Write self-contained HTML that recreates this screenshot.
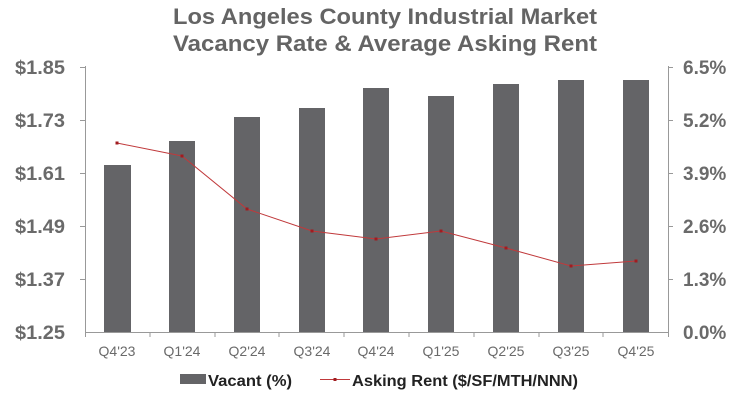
<!DOCTYPE html>
<html><head><meta charset="utf-8"><style>
body{margin:0;background:#fff;width:744px;height:400px;overflow:hidden}
svg{display:block}
.t{font-family:"Liberation Sans",sans-serif;font-weight:bold;fill:#646464}
.n{font-family:"Liberation Sans Narrow","Liberation Sans",sans-serif;fill:#6a6a6a}
</style></head><body>
<svg width="744" height="400" viewBox="0 0 744 400">
<text class="t" x="385" y="24" font-size="22" text-anchor="middle" textLength="424" lengthAdjust="spacingAndGlyphs">Los Angeles County Industrial Market</text>
<text class="t" x="385" y="51" font-size="22" text-anchor="middle" textLength="424" lengthAdjust="spacingAndGlyphs">Vacancy Rate &amp; Average Asking Rent</text>
<g fill="#646467">
<rect x="104" y="165" width="27" height="167"/>
<rect x="169" y="141" width="26" height="191"/>
<rect x="234" y="117" width="26" height="215"/>
<rect x="299" y="108" width="26" height="224"/>
<rect x="363" y="88" width="26" height="244"/>
<rect x="428" y="96" width="26" height="236"/>
<rect x="493" y="84" width="26" height="248"/>
<rect x="558" y="80" width="26" height="252"/>
<rect x="623" y="80" width="26" height="252"/>
</g>
<g stroke="#999" stroke-width="1" fill="none">
<line x1="85.5" y1="66" x2="85.5" y2="337"/>
<line x1="668.5" y1="66" x2="668.5" y2="337"/>
<line x1="85" y1="332.5" x2="669" y2="332.5"/>
<line x1="80" y1="67.5" x2="85" y2="67.5"/><line x1="80" y1="120.5" x2="85" y2="120.5"/><line x1="80" y1="173.5" x2="85" y2="173.5"/><line x1="80" y1="226.5" x2="85" y2="226.5"/><line x1="80" y1="279.5" x2="85" y2="279.5"/>
<line x1="668" y1="67.5" x2="673" y2="67.5"/><line x1="668" y1="120.5" x2="673" y2="120.5"/><line x1="668" y1="173.5" x2="673" y2="173.5"/><line x1="668" y1="226.5" x2="673" y2="226.5"/><line x1="668" y1="279.5" x2="673" y2="279.5"/>
<line x1="150" y1="332" x2="150" y2="337"/><line x1="215" y1="332" x2="215" y2="337"/><line x1="279" y1="332" x2="279" y2="337"/><line x1="344" y1="332" x2="344" y2="337"/><line x1="409" y1="332" x2="409" y2="337"/><line x1="474" y1="332" x2="474" y2="337"/><line x1="539" y1="332" x2="539" y2="337"/><line x1="603" y1="332" x2="603" y2="337"/>
</g>
<polyline fill="none" stroke="#c0393b" stroke-width="1" points="117,143 182,156 247,209 312,231 376,239 441,231 506,248 571,266 636,261"/>
<g fill="#a01c20">
<rect x="115.5" y="141.5" width="3" height="3"/><rect x="180.5" y="154.5" width="3" height="3"/><rect x="245.5" y="207.5" width="3" height="3"/><rect x="310.5" y="229.5" width="3" height="3"/><rect x="374.5" y="237.5" width="3" height="3"/><rect x="439.5" y="229.5" width="3" height="3"/><rect x="504.5" y="246.5" width="3" height="3"/><rect x="569.5" y="264.5" width="3" height="3"/><rect x="634.5" y="259.5" width="3" height="3"/>
</g>
<g class="n" font-size="19" font-weight="bold" text-anchor="end">
<text x="65" y="74" textLength="50" lengthAdjust="spacingAndGlyphs">$1.85</text><text x="65" y="127" textLength="50" lengthAdjust="spacingAndGlyphs">$1.73</text><text x="65" y="180" textLength="50" lengthAdjust="spacingAndGlyphs">$1.61</text><text x="65" y="233" textLength="50" lengthAdjust="spacingAndGlyphs">$1.49</text><text x="65" y="286" textLength="50" lengthAdjust="spacingAndGlyphs">$1.37</text><text x="65" y="339" textLength="50" lengthAdjust="spacingAndGlyphs">$1.25</text>
</g>
<g class="n" font-size="19" font-weight="bold" text-anchor="start">
<text x="683" y="74">6.5%</text><text x="683" y="127">5.2%</text><text x="683" y="180">3.9%</text><text x="683" y="233">2.6%</text><text x="683" y="286">1.3%</text><text x="683" y="339">0.0%</text>
</g>
<g class="n" font-size="14" text-anchor="middle">
<text x="117" y="356">Q4'23</text><text x="182" y="356">Q1'24</text><text x="247" y="356">Q2'24</text><text x="312" y="356">Q3'24</text><text x="376" y="356">Q4'24</text><text x="441" y="356">Q1'25</text><text x="506" y="356">Q2'25</text><text x="571" y="356">Q3'25</text><text x="636" y="356">Q4'25</text>
</g>
<rect x="180" y="374" width="26" height="10" fill="#646467"/>
<text class="n" x="208" y="386" font-size="16" font-weight="bold" style="fill:#222" textLength="84" lengthAdjust="spacingAndGlyphs">Vacant (%)</text>
<line x1="320" y1="379.5" x2="350" y2="379.5" stroke="#c0393b" stroke-width="1"/>
<rect x="333.5" y="378" width="3" height="3" fill="#a01c20"/>
<text class="n" x="352" y="386" font-size="16" font-weight="bold" style="fill:#222" textLength="226" lengthAdjust="spacingAndGlyphs">Asking Rent ($/SF/MTH/NNN)</text>
</svg>
</body></html>
